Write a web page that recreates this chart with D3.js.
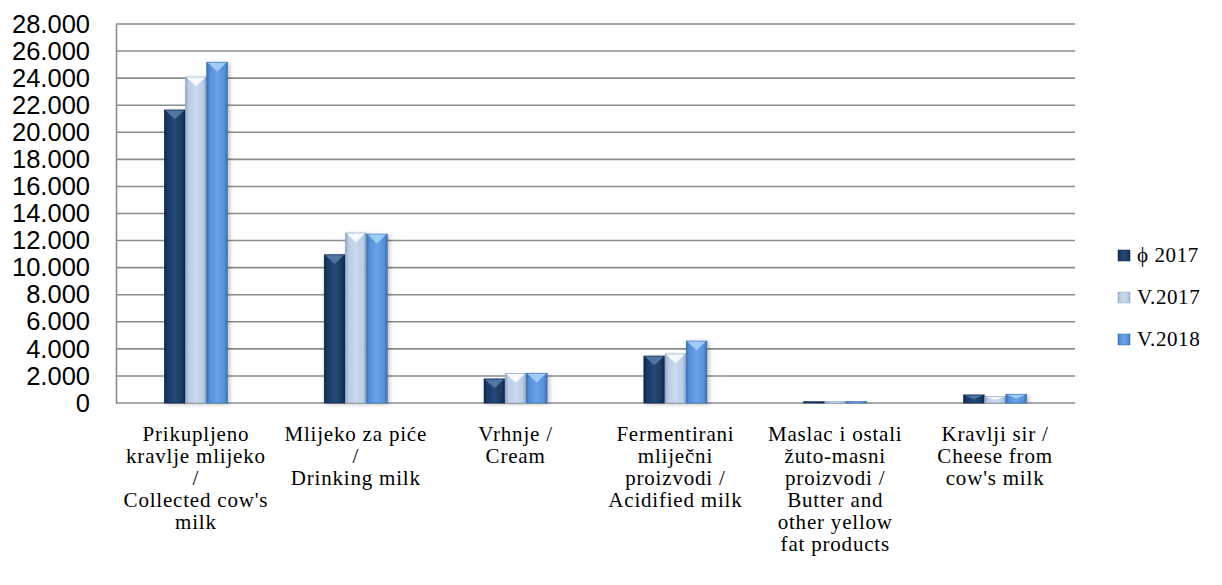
<!DOCTYPE html>
<html><head><meta charset="utf-8">
<script src="https://cdn.jsdelivr.net/npm/d3@7/dist/d3.min.js"></script>
<style>body{margin:0;background:#fff}svg{display:block}</style>
</head><body>
<svg id="c" width="1222" height="585"></svg>
<script>
const categories = [
  ["Prikupljeno","kravlje mlijeko","/","Collected cow's","milk"],
  ["Mlijeko za piće","/","Drinking milk"],
  ["Vrhnje /","Cream"],
  ["Fermentirani","mliječni","proizvodi /","Acidified milk"],
  ["Maslac i ostali","žuto-masni","proizvodi /","Butter and","other yellow","fat products"],
  ["Kravlji sir /","Cheese from","cow's milk"]
];
const seriesNames = ["ϕ 2017","V.2017","V.2018"];
const phi2017 = [21650, 10950, 1780, 3470, 100, 600];
const v2017   = [24080, 12560, 2180, 3620, 110, 480];
const v2018   = [25180, 12480, 2200, 4580, 120, 650];
const yTicks = [0,2000,4000,6000,8000,10000,12000,14000,16000,18000,20000,22000,24000,26000,28000];

const series = [phi2017, v2017, v2018];
const colors = [
  {base:"#1b3a63", edge:"#0f2340", mid:"#24487a", tip:"#5a7eab"},
  {base:"#b9cde6", edge:"#8ea6c4", mid:"#c9daee", tip:"#ffffff"},
  {base:"#5590d8", edge:"#3a6eb0", mid:"#6aa2e6", tip:"#a9d4fb"}
];

const svg = d3.select("#c");
const m = {l:116, r:1075, t:24, b:403};
const x0 = d3.scaleBand().domain(d3.range(categories.length)).range([m.l, m.r]).paddingInner(0).paddingOuter(0);
const y = d3.scaleLinear().domain([0, 28000]).range([m.b, m.t]);
const groupW = x0.bandwidth()*0.4;
const x1 = d3.scaleBand().domain(d3.range(series.length)).range([0, groupW]).padding(0.02);

const defs = svg.append("defs");
colors.forEach((c,i)=>{
  const g = defs.append("linearGradient").attr("id","g"+i).attr("x1","0").attr("x2","1").attr("y1","0").attr("y2","0");
  g.append("stop").attr("offset","0").attr("stop-color",c.edge);
  g.append("stop").attr("offset","0.15").attr("stop-color",c.base);
  g.append("stop").attr("offset","0.5").attr("stop-color",c.mid);
  g.append("stop").attr("offset","0.85").attr("stop-color",c.base);
  g.append("stop").attr("offset","1").attr("stop-color",c.edge);
});
const f = defs.append("filter").attr("id","sh").attr("x","-20%").attr("y","-5%").attr("width","150%").attr("height","115%");
f.append("feGaussianBlur").attr("in","SourceAlpha").attr("stdDeviation","2");
f.append("feOffset").attr("dx","2").attr("dy","1").attr("result","b");
f.append("feComponentTransfer").append("feFuncA").attr("type","linear").attr("slope","0.25");
const fm = f.append("feMerge"); fm.append("feMergeNode"); fm.append("feMergeNode").attr("in","SourceGraphic");

// gridlines
svg.append("g").selectAll("line").data(yTicks).join("line")
  .attr("x1", m.l).attr("x2", m.r)
  .attr("y1", d=>y(d)).attr("y2", d=>y(d))
  .attr("stroke","#8c8c8c").attr("stroke-width",1.6);

// left axis
const ax = svg.append("g").attr("transform",`translate(${m.l},0)`)
  .call(d3.axisLeft(y).tickValues(yTicks).tickSize(0).tickPadding(26)
    .tickFormat(d=> d===0 ? "0" : d3.format(",")(d).replace(/,/g,".")));
ax.select(".domain").attr("stroke","#8c8c8c").attr("stroke-width",1.6);
ax.selectAll("text").attr("font-family","'Liberation Sans', Arial, sans-serif").attr("font-size",25.5).attr("fill","#000");

// bars
const groups = svg.append("g").selectAll("g").data(categories.map((c,i)=>i)).join("g")
  .attr("transform", i=>`translate(${x0(i)+x0.bandwidth()/2-groupW/2},0)`);
groups.each(function(ci){
  const g = d3.select(this);
  series.forEach((s,si)=>{
    const v = s[ci];
    const bx = x1(si), bw = x1.bandwidth();
    const top = y(v), h = y(0)-top;
    g.append("rect").attr("x",bx).attr("y",top).attr("width",bw).attr("height",h)
      .attr("fill",`url(#g${si})`).attr("stroke",colors[si].edge).attr("stroke-width",0.6)
      .attr("filter","url(#sh)");
    const th = Math.min(bw*0.45, h*0.5);
    g.append("path")
      .attr("d",`M${bx+1},${top+0.5} L${bx+bw-1},${top+0.5} L${bx+bw/2},${top+th} Z`)
      .attr("fill",colors[si].tip).attr("opacity",0.85);
  });
});

// category labels
const lab = svg.append("g").selectAll("text").data(categories).join("text")
  .attr("text-anchor","middle").attr("font-family","'Liberation Serif', serif").attr("font-size",21)
  .attr("letter-spacing",0.8).attr("fill","#000")
  .attr("transform",(d,i)=>`translate(${x0(i)+x0.bandwidth()/2},${441})`);
lab.selectAll("tspan").data(d=>d).join("tspan").attr("x",0).attr("dy",(d,i)=>i===0?0:22).text(d=>d);

// legend
const lg = svg.append("g").selectAll("g").data(seriesNames).join("g")
  .attr("transform",(d,i)=>`translate(1118,${262+i*42})`);
lg.append("rect").attr("x",0).attr("y",-12).attr("width",12).attr("height",11)
  .attr("fill",(d,i)=>`url(#g${i})`).attr("stroke",(d,i)=>colors[i].edge).attr("stroke-width",0.5);
lg.append("text").attr("x",19).attr("y",0).attr("font-family","'Liberation Serif', serif").attr("font-size",21)
  .attr("letter-spacing",0.6).attr("fill","#000").text(d=>d);
</script>
</body></html>
